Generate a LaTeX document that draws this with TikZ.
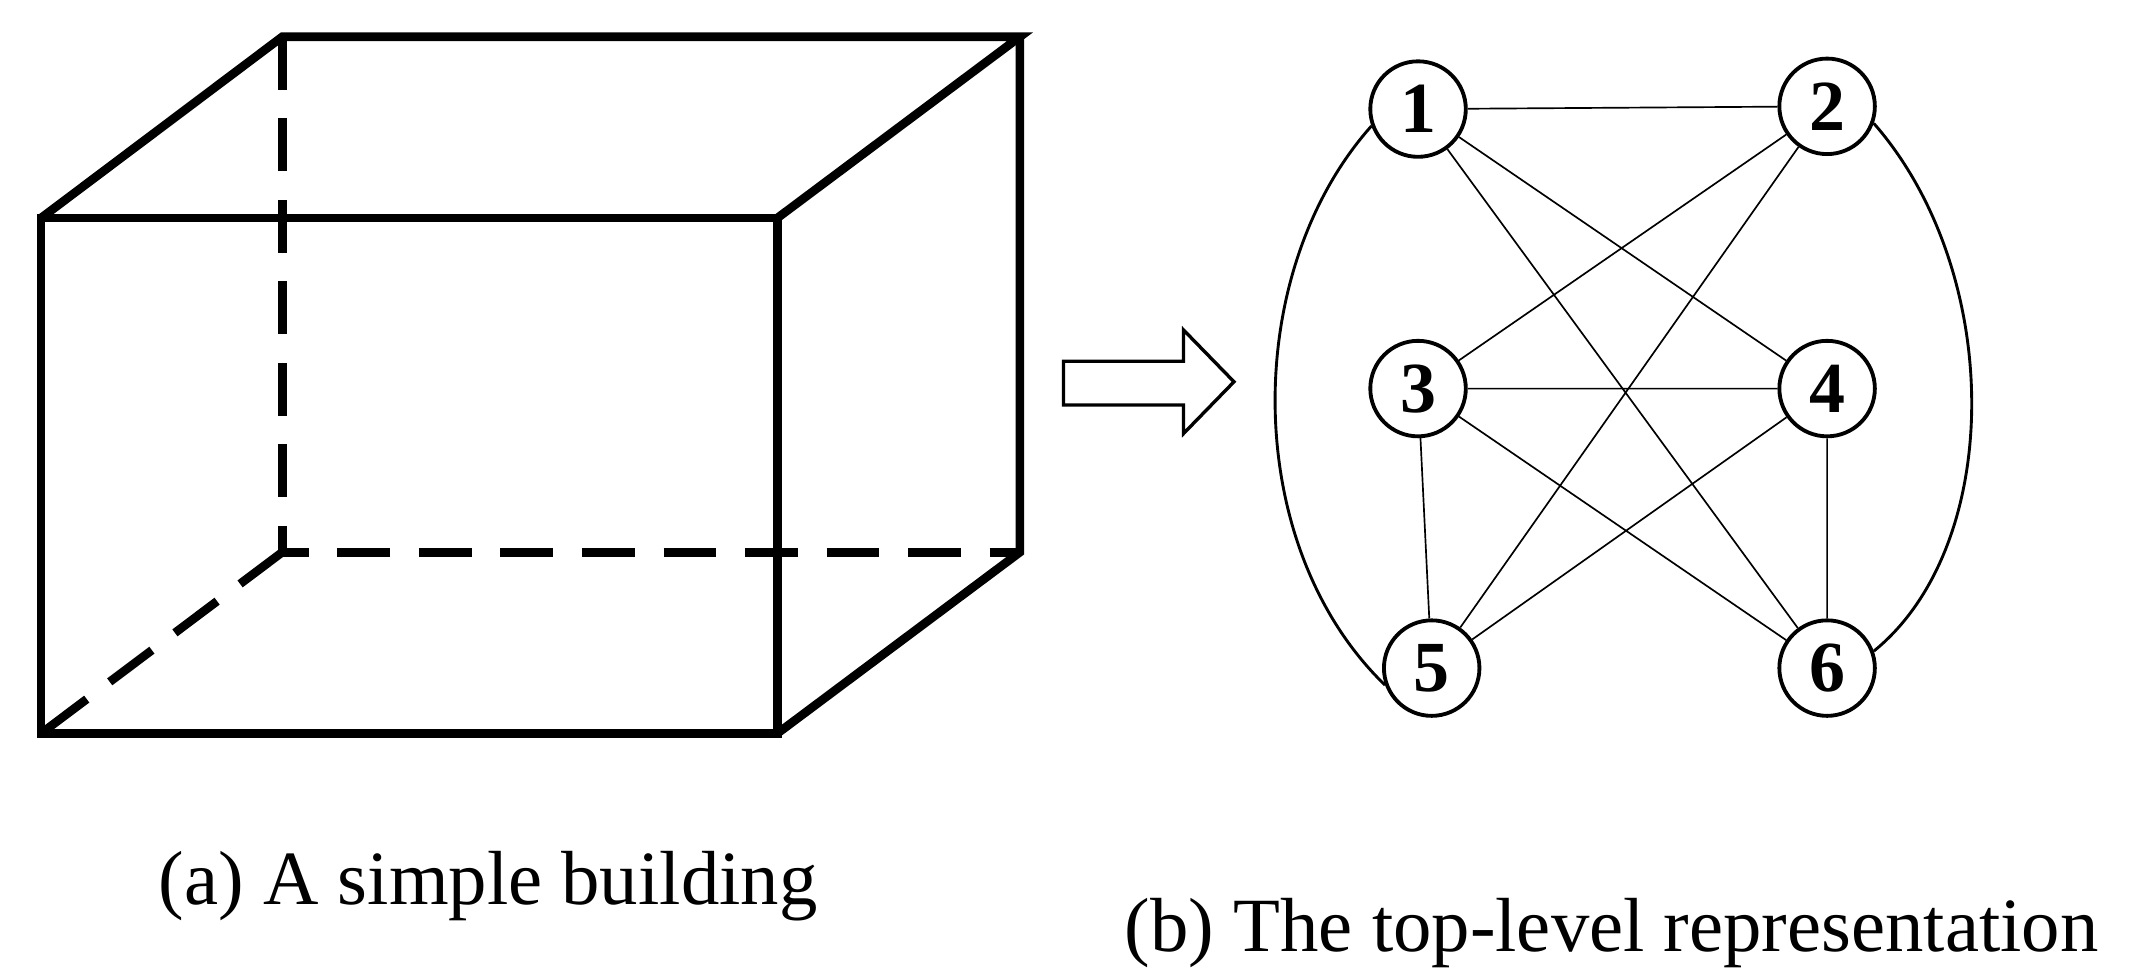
\documentclass[tikz,border=0pt]{standalone}
\usepackage{fontspec}
\setmainfont{Liberation Serif}
\begin{document}
\begin{tikzpicture}[x=0.01cm,y=-0.01cm,
  v/.style={circle,draw,line width=0.8pt,minimum size=0.7cm,inner sep=0pt,font=\fontsize{15}{15}\selectfont\bfseries},
  e/.style={line width=0.35pt},
  cube/.style={line width=1.8pt},
  captxt/.style={font=\fontsize{16}{18}\selectfont}]
\useasboundingbox (0,0) rectangle (1568,710);
% cube
\draw[cube] (30,160) rectangle (570,538);
\draw[cube] (30,160) -- (207,27) -- (748,27) -- (570,160);
\draw[cube] (748,27) -- (748,405) -- (570,538);
\draw[cube,dash pattern=on 11pt off 6pt] (207,27) -- (207,405) -- (748,405);
\draw[cube,dash pattern=on 11pt off 6pt] (207,405) -- (30,538);
% arrow
\draw[line width=0.7pt] (780,265) -- (868,265) -- (868,242) -- (905,280) -- (868,318) -- (868,297) -- (780,297) -- cycle;
% graph
\node[v] (n1) at (1040,80) {1};
\node[v] (n2) at (1340,78) {2};
\node[v] (n3) at (1040,285) {3};
\node[v] (n4) at (1340,285) {4};
\node[v] (n5) at (1050,490) {5};
\node[v] (n6) at (1340,490) {6};
\draw[e] (n1)--(n2) (n1)--(n4) (n1)--(n6) (n2)--(n3) (n2)--(n5)
 (n3)--(n4) (n3)--(n5) (n3)--(n6) (n4)--(n5) (n4)--(n6);
\draw[line width=0.6pt] (n1.200) .. controls (910,200) and (910,400) .. (n5.200);
\draw[line width=0.6pt] (n2.-20) .. controls (1470,200) and (1470,400) .. (n6.20);
\node[captxt] (ca) at (358,650) {(a) A simple building};
\node[captxt] (cb) at (1182,684) {(b) The top-level representation};
\end{tikzpicture}
\end{document}
